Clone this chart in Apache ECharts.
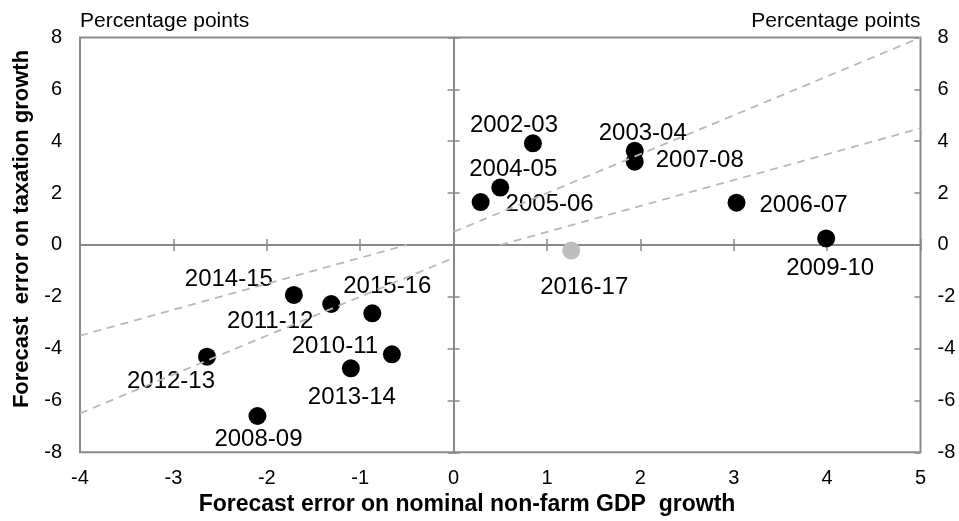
<!DOCTYPE html>
<html>
<head>
<meta charset="utf-8">
<title>Forecast errors: taxation vs nominal non-farm GDP</title>
<script src="https://cdn.jsdelivr.net/npm/echarts/dist/echarts.min.js"></script>
<style>
  html, body { margin: 0; padding: 0; background: #fff; }
  #chart { width: 959px; height: 521px; }
</style>
</head>
<body>
<div id="chart"></div>
<script>
// Financial years and their forecast errors (percentage points)
const seasons  = ['2002-03','2003-04','2004-05','2005-06','2006-07','2007-08','2008-09','2009-10',
                  '2010-11','2011-12','2012-13','2013-14','2014-15','2015-16','2016-17'];
const gdpError = [0.85, 1.94, 0.50, 0.29, 3.03, 1.94, -2.10, 3.99,
                  -0.66, -1.31, -2.64, -1.10, -1.71, -0.87, 1.26];
const taxError = [3.92, 3.63, 2.21, 1.65, 1.63, 3.21, -6.60, 0.25,
                  -4.22, -2.28, -4.31, -4.76, -1.93, -2.64, -0.22];
const latestSeason = '2016-17';

// Axis ticks
const xTicks = [-4, -3, -2, -1, 0, 1, 2, 3, 4, 5];
const yTicks = [-8, -6, -4, -2, 0, 2, 4, 6, 8];

// Dashed elasticity bands, split at the origin
const upperBandPositive = [[0, 0.5], [5, 8]];
const lowerBandPositive = [[0.5, 0], [5, 4.5]];
const upperBandNegative = [[-4, -3.5], [-0.5, 0]];
const lowerBandNegative = [[-4, -6.5], [0, -0.5]];

// Label placement relative to each marker centre (px)
const labelOffsets = {
  '2002-03': [-19, -18], '2003-04': [8, -17],  '2004-05': [13, -18], '2005-06': [69, 2],
  '2006-07': [67, 3],    '2007-08': [65, -1],  '2008-09': [1, 23],   '2009-10': [4, 30],
  '2010-11': [-57, -8],  '2011-12': [-61, 17], '2012-13': [-36, 25], '2013-14': [1, 29],
  '2014-15': [-65, -16], '2015-16': [15, -27], '2016-17': [13, 37]
};

const FONT = '"Liberation Sans", Arial, Helvetica, sans-serif';
const AXIS_GREY = '#898989';
const BAND_GREY = '#b8b8b8';

const xStep = xTicks[1] - xTicks[0];
const yStep = yTicks[1] - yTicks[0];
const xRange = { min: xTicks[0], max: xTicks[xTicks.length - 1], interval: xStep };
const yRange = { min: yTicks[0], max: yTicks[yTicks.length - 1], interval: yStep };

const hidden = { show: false };
const tickLabel = { fontSize: 20, color: '#000', fontFamily: FONT };

// Axes that only carry labels along the frame
const xLabelAxis = Object.assign({ type: 'value', position: 'bottom',
  axisLine: { show: false, onZero: false }, axisTick: hidden, splitLine: hidden,
  axisLabel: Object.assign({ margin: 16 }, tickLabel) }, xRange);
const yLeftAxis = Object.assign({ type: 'value', position: 'left',
  axisLine: { show: false, onZero: false }, axisTick: hidden, splitLine: hidden,
  axisLabel: Object.assign({ margin: 18 }, tickLabel) }, yRange);
const yRightAxis = Object.assign({ type: 'value', position: 'right',
  axisLine: { show: false, onZero: false },
  axisTick: { show: true, inside: true, length: 6, lineStyle: { color: AXIS_GREY, width: 1.5 } },
  splitLine: hidden, axisLabel: Object.assign({ margin: 17 }, tickLabel) }, yRange);

// Crossing zero lines: one half of each tick drawn by each axis
function zeroAxis(range, position, inside, drawLine) {
  return Object.assign({ type: 'value', position: position,
    axisLine: { show: drawLine, onZero: true, onZeroAxisIndex: 0,
                lineStyle: { color: AXIS_GREY, width: 2 } },
    axisTick: { show: true, inside: inside, length: 6, lineStyle: { color: AXIS_GREY, width: 1.5 } },
    axisLabel: hidden, splitLine: hidden }, range);
}

const points = seasons.map((s, i) => ({
  name: s,
  value: [gdpError[i], taxError[i]],
  itemStyle: { color: s === latestSeason ? '#bdbdbd' : '#000', opacity: 1 },
  label: { offset: labelOffsets[s] }
}));

function band(data) {
  return {
    type: 'line', data: data, xAxisIndex: 0, yAxisIndex: 0, z: 4,
    showSymbol: false, silent: true, animation: false,
    lineStyle: { color: BAND_GREY, width: 1.8, type: [8, 6], opacity: 1 }
  };
}

const chart = echarts.init(document.getElementById('chart'), null, { renderer: 'canvas' });
chart.setOption({
  animation: false,
  backgroundColor: '#fff',
  textStyle: { fontFamily: FONT },
  grid: {
    left: 80, top: 37.5, right: 38.5, bottom: 68.7,
    show: true, borderColor: AXIS_GREY, borderWidth: 2, backgroundColor: 'transparent',
    containLabel: false, outerBoundsMode: 'none'
  },
  xAxis: [
    xLabelAxis,
    zeroAxis(xRange, 'bottom', true, true),
    zeroAxis(xRange, 'bottom', false, false)
  ],
  yAxis: [
    yLeftAxis,
    yRightAxis,
    zeroAxis(yRange, 'left', true, true),
    zeroAxis(yRange, 'left', false, false)
  ],
  series: [
    {
      type: 'scatter', xAxisIndex: 0, yAxisIndex: 0, z: 3,
      symbol: 'circle', symbolSize: 18,
      data: points,
      itemStyle: { opacity: 1 },
      label: {
        show: true, position: 'inside', formatter: '{b}',
        fontSize: 24, color: '#000', fontFamily: FONT, opacity: 1
      },
      emphasis: { disabled: true }
    },
    band(upperBandPositive),
    band(lowerBandPositive),
    band(upperBandNegative),
    band(lowerBandNegative)
  ],
  graphic: [
    { type: 'text', x: 80, y: 21,
      style: { text: 'Percentage points', font: '21px ' + FONT, fill: '#000', align: 'left', verticalAlign: 'middle' } },
    { type: 'text', x: 920.5, y: 21,
      style: { text: 'Percentage points', font: '21px ' + FONT, fill: '#000', align: 'right', verticalAlign: 'middle' } },
    { type: 'text', x: 22, y: 229, rotation: Math.PI / 2,
      style: { text: 'Forecast  error on taxation growth', font: 'bold 22px ' + FONT, fill: '#000', align: 'center', verticalAlign: 'middle' } },
    { type: 'text', x: 467, y: 505,
      style: { text: 'Forecast error on nominal non-farm GDP  growth', font: 'bold 23px ' + FONT, fill: '#000', align: 'center', verticalAlign: 'middle' } }
  ]
});
</script>
</body>
</html>
